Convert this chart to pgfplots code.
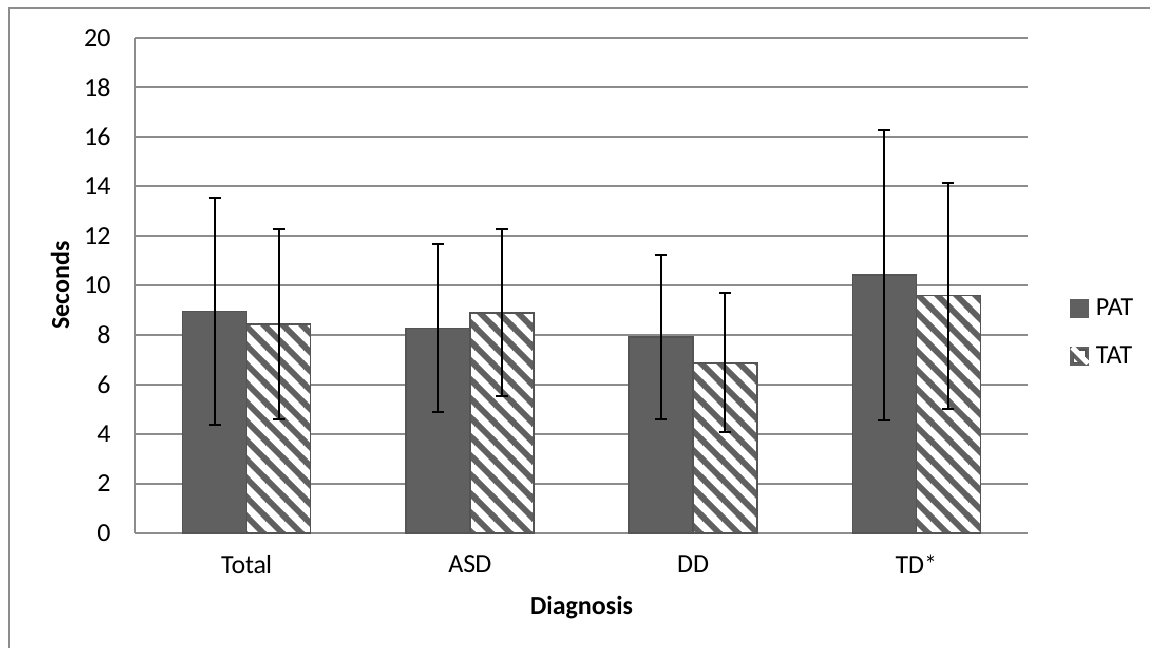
\documentclass[border=0pt]{standalone}
\usepackage{fontspec}
\setmainfont{Carlito}
\usepackage{pgfplots}
\pgfplotsset{compat=1.18}
\usetikzlibrary{patterns.meta}
\definecolor{barpat}{HTML}{606060}
\definecolor{barline}{HTML}{545454}
\definecolor{gridc}{HTML}{8C8C8C}
\definecolor{framec}{HTML}{8C8C8C}
\newcommand{\fs}{\fontsize{13}{15.6}\selectfont}
\tikzdeclarepattern{
  name=hatchw, type=colored,
  bottom left={(0pt,0pt)}, top right={(9.5pt,9.5pt)},
  tile size={(9.5pt,9.5pt)},
  code={
    \pgfsetfillcolor{white}
    \pgfpathrectangle{\pgfpoint{0pt}{0pt}}{\pgfpoint{9.5pt}{9.5pt}}
    \pgfusepath{fill}
    \pgfsetstrokecolor{barpat}
    \pgfsetlinewidth{3pt}
    \pgfpathmoveto{\pgfpoint{-1pt}{10.5pt}}\pgfpathlineto{\pgfpoint{10.5pt}{-1pt}}
    \pgfpathmoveto{\pgfpoint{-5.75pt}{5.75pt}}\pgfpathlineto{\pgfpoint{5.75pt}{-5.75pt}}
    \pgfpathmoveto{\pgfpoint{3.75pt}{15.25pt}}\pgfpathlineto{\pgfpoint{15.25pt}{3.75pt}}
    \pgfusepath{stroke}
  }
}
\begin{document}
\begin{tikzpicture}
\useasboundingbox (0,0) rectangle (575pt,324pt);
\draw[framec, line width=1pt] (4.5pt,0pt) -- (4.5pt,320pt) -- (575pt,320pt);
\begin{axis}[
  at={(67.5pt,57.5pt)}, anchor=south west,
  scale only axis, width=446.5pt, height=247.5pt,
  ybar=0pt, bar width=0.2867,
  xmin=-0.5, xmax=3.5, ymin=0, ymax=20,
  xtick={0,1,2,3}, xticklabels={Total,ASD,DD,TD*},
  ytick={0,2,...,20},
  major tick length=0pt,
  axis line style={gridc, line width=1pt},
  axis x line*=bottom, axis y line*=left,
  ymajorgrids, grid style={gridc, line width=1pt},
  /pgf/number format/assume math mode=true,
  tick label style={font=\fs, black},
  yticklabel style={inner sep=0pt, xshift=-12pt},
  xticklabel style={inner sep=0pt, yshift=-11pt},
  xlabel={\textbf{Diagnosis}}, ylabel={\textbf{Seconds}},
  label style={font=\fs},
  xlabel style={at={(axis description cs:0.5,-0.1515)}, anchor=center},
  ylabel style={at={(axis description cs:-0.084,0.5)}, anchor=center, rotate=0},
  legend style={draw=none, fill=none, font=\fs,
    at={(axis description cs:1.047,0.405)}, anchor=west,
    row sep=14pt, inner sep=0pt,
    nodes={inner xsep=3.5pt, inner ysep=0pt}},
  legend cell align=left,
  error bars/error bar style={black, line width=1pt},
  error bars/error mark options={rotate=90, mark size=3pt, line width=1pt, black},
]
\addplot[fill=barpat, draw=barline, line width=0.8pt,
  legend image code/.code={\fill[barpat] (0pt,-4.25pt) rectangle (8.5pt,4.25pt);},
  error bars/.cd, y dir=both, y explicit]
  coordinates {(0,8.95) +- (0,4.57) (1,8.27) +- (0,3.39) (2,7.92) +- (0,3.30) (3,10.42) +- (0,5.85)};
\addlegendentry{PAT}
\addplot[pattern=hatchw, draw=barline, line width=0.8pt,
  legend image code/.code={
     \fill[barpat] (0pt,-4.25pt) rectangle (8.5pt,4.25pt);
     \begin{scope}
     \clip (1.2pt,-3.05pt) rectangle (7.3pt,3.05pt);
     \draw[white, line width=2.6pt] (0.5pt,4.5pt) -- (8.5pt,-3.5pt);
     \end{scope}},
  error bars/.cd, y dir=both, y explicit]
  coordinates {(0,8.44) +- (0,3.83) (1,8.90) +- (0,3.37) (2,6.88) +- (0,2.80) (3,9.59) +- (0,4.56)};
\addlegendentry{TAT}
\end{axis}
\end{tikzpicture}
\end{document}
